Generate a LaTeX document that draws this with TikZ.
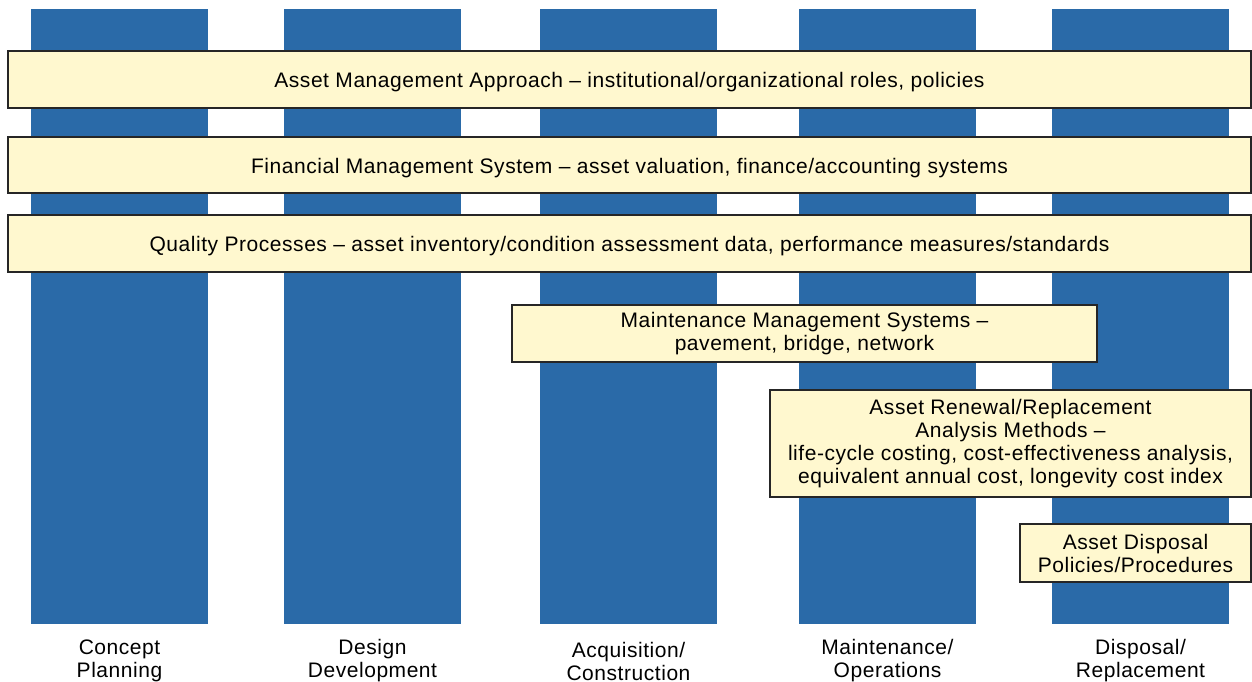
\documentclass[tikz,border=0pt]{standalone}
\usepackage{fontspec}
\setmainfont{Liberation Sans}[LetterSpace=2.6]
\definecolor{phaseblue}{HTML}{2A6AA8}
\definecolor{boxcream}{HTML}{FFF8CF}
\begin{document}
\begin{tikzpicture}[x=1pt,y=-1pt,
  phase/.style={fill=phaseblue, draw=none, minimum width=177pt,
    minimum height=615pt, inner sep=0pt, anchor=north},
  band/.style={fill=boxcream, draw=black!85, line width=1.5pt, inner sep=0pt,
    align=center, font=\fontsize{21}{23}\selectfont},
  oneline/.style={text height=16pt, text depth=0pt},
  phaselabel/.style={align=center, font=\fontsize{21}{23}\selectfont}]
\useasboundingbox (0,0) rectangle (1252,682);

% life-cycle phase columns
\node[phase] (p1) at (119.5,9) {};
\node[phase] (p2) at (372.5,9) {};
\node[phase] (p3) at (628.5,9) {};
\node[phase] (p4) at (887.5,9) {};
\node[phase] (p5) at (1140.5,9) {};

% phase names
\node[phaselabel] (l1) at (119.5,661) {Concept\\Planning};
\node[phaselabel] (l2) at (372.5,661) {Design\\Development};
\node[phaselabel] (l3) at (628.5,661) {Acquisition/\\Construction};
\node[phaselabel] (l4) at (887.5,661) {Maintenance/\\Operations};
\node[phaselabel] (l5) at (1140.5,661) {Disposal/\\Replacement};

% full-width bands
\node[band, oneline, minimum width=1243pt, minimum height=57pt] (b1) at (629.5,79.5)
  {Asset Management Approach -- institutional/organizational roles, policies};
\node[band, oneline, minimum width=1243pt, minimum height=56pt] (b2) at (629.5,165)
  {Financial Management System -- asset valuation, finance/accounting systems};
\node[band, oneline, minimum width=1243pt, minimum height=57pt] (b3) at (629.5,243.5)
  {Quality Processes -- asset inventory/condition assessment data, performance measures/standards};

% phase-specific boxes
\node[band, minimum width=585pt, minimum height=57pt] (mm) at (804.5,333.5)
  {Maintenance Management Systems --\\pavement, bridge, network};
\node[band, minimum width=481pt, minimum height=107pt] (rr) at (1010.5,443.5)
  {Asset Renewal/Replacement\\Analysis Methods --\\life-cycle costing, cost-effectiveness analysis,\\equivalent annual cost, longevity cost index};
\node[band, minimum width=231pt, minimum height=58pt] (dp) at (1135.5,553)
  {Asset Disposal\\Policies/Procedures};
\end{tikzpicture}
\end{document}
